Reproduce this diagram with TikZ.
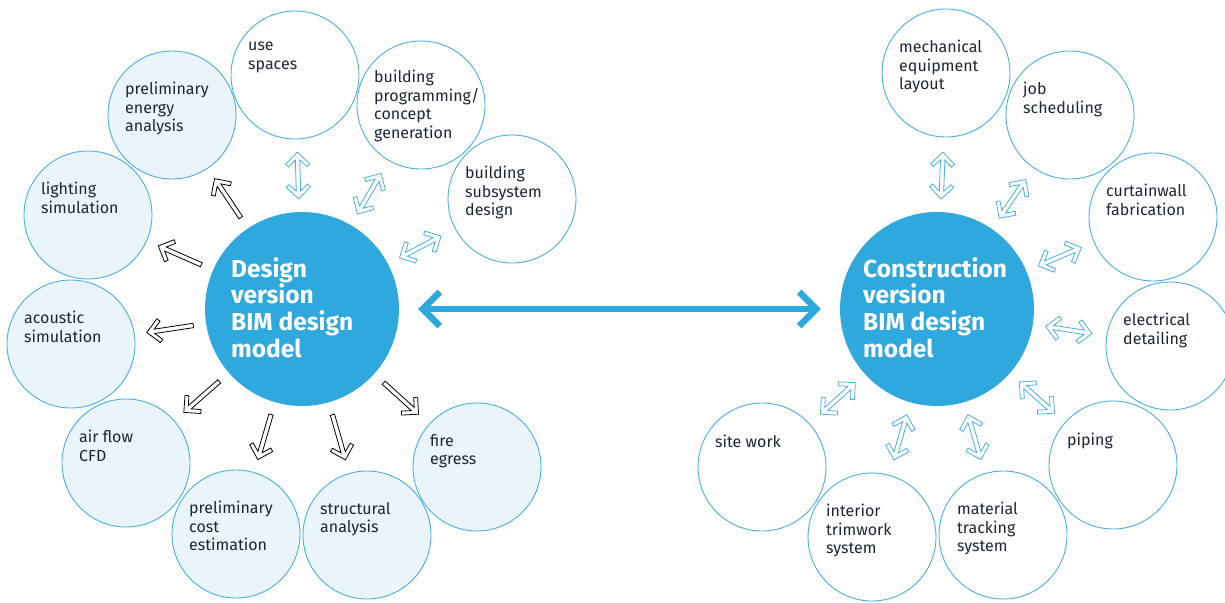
\documentclass[tikz,border=0pt]{standalone}
\usepackage{fontspec}
\setmainfont{Fira Sans}
\usepackage{xcolor}
\definecolor{bimblue}{RGB}{47,168,221}
\definecolor{ringblue}{RGB}{74,174,224}
\definecolor{paleblue}{RGB}{234,244,251}
\definecolor{inkdark}{RGB}{28,38,52}
\usepackage{tikz}
\usetikzlibrary{calc,arrows.meta}

\tikzset{
  hub/.style={circle, fill=bimblue, minimum size=194pt, inner sep=0pt},
  bubble/.style={circle, draw=ringblue, line width=0.9pt, fill=white, minimum size=128pt, inner sep=0pt},
  tinted/.style={bubble, fill=paleblue},
  tag/.style={anchor=north west, align=left, inner sep=0pt, text=inkdark,
    font=\fontsize{16}{18.5}\selectfont, execute at begin node=\strut},
  hubtag/.style={anchor=north west, align=left, inner sep=0pt, text=white,
    font=\bfseries\fontsize{24.5}{26.7}\selectfont, execute at begin node=\strut},
  oneway/.style={draw=black, line width=0.8pt, fill=white, line join=miter},
  twoway/.style={draw=ringblue, line width=0.8pt, fill=white, line join=miter},
  bigarrow/.style={draw=bimblue, line width=6.5pt,
    {Straight Barb[length=17pt,width=34pt]}-{Straight Barb[length=17pt,width=34pt]},
    shorten <=19pt, shorten >=19pt},
}

% hollow arrow outlines along the x axis, 47pt long
\newcommand\oneshape{(0pt,2.2pt) -- (39.1pt,2.2pt) -- (32.2pt,9.2pt) -- (35pt,12pt) -- (47pt,0pt)
  -- (35pt,-12pt) -- (32.2pt,-9.2pt) -- (39.1pt,-2.2pt) -- (0pt,-2.2pt) -- cycle}
\newcommand\twoshape{(7.9pt,2.2pt) -- (39.1pt,2.2pt) -- (32.2pt,9.2pt) -- (35pt,12pt) -- (47pt,0pt)
  -- (35pt,-12pt) -- (32.2pt,-9.2pt) -- (39.1pt,-2.2pt) -- (7.9pt,-2.2pt) -- (14.8pt,-9.2pt)
  -- (12pt,-12pt) -- (0pt,0pt) -- (12pt,12pt) -- (14.8pt,9.2pt) -- cycle}

% #1 style, #2 hub node, #3 outer node, #4 outline
\newcommand\linkarrow[4]{%
  \path let \p1=($(#3)-(#2)$), \n1={atan2(\y1,\x1)} in \pgfextra{\xdef\linkangle{\n1}};
  \begin{scope}[shift={($(#2)!110pt!(#3)$)}, rotate=\linkangle]
    \draw[#1] #4;
  \end{scope}}

\begin{document}
\begin{tikzpicture}[x=1pt, y=-1pt]
  \useasboundingbox (0,0) rectangle (1225,602);

  % Design side
  \node[hub] (design) at (302,309) {};
  \node[bubble] (use) at (295,75) {};
  \node[bubble] (prog) at (421,105) {};
  \node[bubble] (subsys) at (512,199) {};
  \node[tinted] (energy) at (172,115) {};
  \node[tinted] (lighting) at (88,215) {};
  \node[tinted] (acoustic) at (71,344) {};
  \node[tinted] (airflow) at (126,463) {};
  \node[tinted] (cost) at (236,534) {};
  \node[tinted] (structural) at (367,535) {};
  \node[tinted] (fire) at (477,467) {};

  % Construction side
  \node[hub] (construction) at (937,309) {};
  \node[bubble] (mech) at (946,73) {};
  \node[bubble] (job) at (1070,115) {};
  \node[bubble] (curtain) at (1153,217) {};
  \node[bubble] (electrical) at (1170,346) {};
  \node[bubble] (piping) at (1113,465) {};
  \node[bubble] (material) at (1003,535) {};
  \node[bubble] (interior) at (872,537) {};
  \node[bubble] (site) at (762,467) {};

  % Texts (first baseline 20pt above the centre)
  \node[hubtag] (designT) at ($(design)+(-71,-52)$) {Design\\version\\BIM design\\model};
  \node[hubtag] (constructionT) at ($(construction)+(-74,-52)$) {Construction\\version\\BIM design\\model};
  \node[tag] (useT) at ($(use)+(-47,-33)$) {use\\spaces};
  \node[tag] (progT) at ($(prog)+(-47,-35)$) {building\\programming/\\concept\\generation};
  \node[tag] (subsysT) at ($(subsys)+(-47,-33)$) {building\\subsystem\\design};
  \node[tag] (energyT) at ($(energy)+(-47,-33)$) {preliminary\\energy\\analysis};
  \node[tag] (lightingT) at ($(lighting)+(-47,-33)$) {lighting\\simulation};
  \node[tag] (acousticT) at ($(acoustic)+(-47,-33)$) {acoustic\\simulation};
  \node[tag] (airflowT) at ($(airflow)+(-47,-33)$) {air flow\\CFD};
  \node[tag] (costT) at ($(cost)+(-47,-33)$) {preliminary\\cost\\estimation};
  \node[tag] (structuralT) at ($(structural)+(-47,-33)$) {structural\\analysis};
  \node[tag] (fireT) at ($(fire)+(-47,-33)$) {fire\\egress};
  \node[tag] (mechT) at ($(mech)+(-47,-33)$) {mechanical\\equipment\\layout};
  \node[tag] (jobT) at ($(job)+(-47,-33)$) {job\\scheduling};
  \node[tag] (curtainT) at ($(curtain)+(-47,-33)$) {curtainwall\\fabrication};
  \node[tag] (electricalT) at ($(electrical)+(-47,-33)$) {electrical\\detailing};
  \node[tag] (pipingT) at ($(piping)+(-46,-33)$) {piping};
  \node[tag] (materialT) at ($(material)+(-46,-33)$) {material\\tracking\\system};
  \node[tag] (interiorT) at ($(interior)+(-46,-33)$) {interior\\trimwork\\system};
  \node[tag] (siteT) at ($(site)+(-47,-33)$) {site work};

  % Link between the two models
  \draw[bigarrow] (design) -- (construction);

  % Arrows around the design model
  \linkarrow{twoway}{design}{use}{\twoshape}
  \linkarrow{twoway}{design}{prog}{\twoshape}
  \linkarrow{twoway}{design}{subsys}{\twoshape}
  \foreach \target in {energy,lighting,acoustic,airflow,cost,structural,fire}
    {\linkarrow{oneway}{design}{\target}{\oneshape}}

  % Arrows around the construction model
  \foreach \target in {mech,job,curtain,electrical,piping,material,interior,site}
    {\linkarrow{twoway}{construction}{\target}{\twoshape}}
\end{tikzpicture}
\end{document}
